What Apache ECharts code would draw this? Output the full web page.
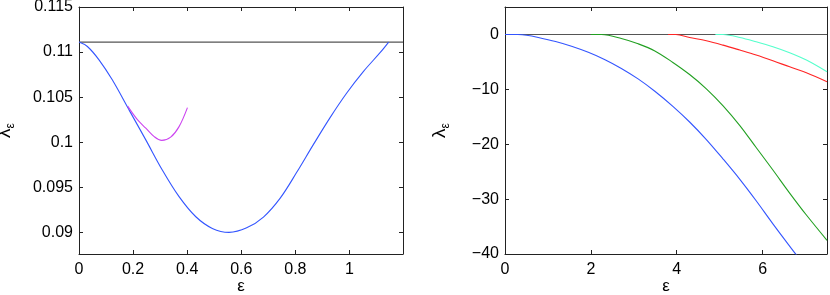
<!DOCTYPE html>
<html>
<head>
<meta charset="utf-8">
<script src="https://cdn.jsdelivr.net/npm/echarts@6/dist/echarts.min.js"></script>
<style>
html,body{margin:0;padding:0;background:#fff;}
#c{width:830px;height:295px;}
</style>
</head>
<body>
<div id="c"></div>
<script>
// ---- data ----
const leftXTicks = [0, 0.2, 0.4, 0.6, 0.8, 1];
const leftXLabels = ['0', '0.2', '0.4', '0.6', '0.8', '1'];
const leftYTicks = [0.09, 0.095, 0.1, 0.105, 0.11, 0.115];
const leftYLabels = ['0.09', '0.095', '0.1', '0.105', '0.11', '0.115'];
const rightXTicks = [0, 2, 4, 6];
const rightXLabels = ['0', '2', '4', '6'];
const rightYTicks = [-40, -30, -20, -10, 0];
const rightYLabels = ['\u221240', '\u221230', '\u221220', '\u221210', '0'];

const leftRef = 0.1111;   // horizontal line, left panel
const rightRef = 0;       // horizontal line, right panel

const leftBlueX = [0, 0.031, 0.074, 0.123, 0.185, 0.247, 0.308, 0.370, 0.432, 0.493, 0.555, 0.620, 0.682, 0.744, 0.805, 0.867, 0.929, 0.990, 1.052, 1.114, 1.145];
const leftBlueY = [0.11111, 0.11062, 0.10914, 0.10692, 0.10359, 0.10026, 0.09692, 0.09396, 0.09173, 0.09044, 0.09000, 0.09050, 0.09170, 0.09380, 0.09666, 0.09976, 0.10276, 0.10546, 0.10786, 0.10996, 0.11111];
const leftMagX = [0.180, 0.216, 0.247, 0.278, 0.306, 0.339, 0.370, 0.401];
const leftMagY = [0.10400, 0.10250, 0.10156, 0.10062, 0.10020, 0.10056, 0.10173, 0.10384];

const rBlueX = [0, 0.3, 0.5, 0.775, 1.178, 1.55, 1.94, 2.33, 2.71, 3.10, 3.49, 3.91, 4.30, 4.69, 5.08, 5.47, 5.85, 6.24, 6.74, 6.80];
const rBlueY = [0, -0.02, -0.15, -0.55, -1.28, -2.15, -3.25, -4.6, -6.2, -8.1, -10.35, -13.1, -15.95, -19.15, -22.7, -26.4, -30.3, -34.5, -39.7, -40.3];
const rGreenX = [2.0, 2.25, 2.71, 3.10, 3.49, 3.91, 4.30, 4.69, 5.08, 5.47, 5.85, 6.24, 6.63, 7.02, 7.5];
const rGreenY = [0, -0.02, -0.73, -1.70, -3.0, -5.1, -7.3, -9.9, -13.0, -16.6, -20.6, -24.7, -28.9, -32.9, -37.5];
const rRedX = [3.8, 3.98, 4.30, 4.69, 5.08, 5.47, 5.85, 6.24, 6.63, 7.02, 7.5];
const rRedY = [0, -0.02, -0.55, -1.15, -1.95, -2.85, -3.76, -4.8, -5.9, -6.97, -8.6];
const rCyanX = [4.9, 5.08, 5.47, 5.85, 6.24, 6.63, 7.02, 7.5];
const rCyanY = [0, -0.02, -0.55, -1.34, -2.25, -3.34, -4.67, -6.8];

// ---- chart ----
const FONT = 'Liberation Sans, Arial, Helvetica, sans-serif';
const AX = '#222';
const zip = (xs, ys) => xs.map((x, i) => [x, ys[i]]);
const fmt = (ticks, labels) => (v) => {
  const i = ticks.findIndex(t => Math.abs(t - v) < 1e-9);
  return i >= 0 ? labels[i] : '';
};

function xAxisDef(grid, min, max, ticks, labels, pos) {
  const main = pos === 'bottom';
  return {
    type: 'value', gridIndex: grid, min: min, max: max, position: pos,
    splitLine: {show: false},
    axisLine: {show: true, onZero: false, lineStyle: {color: AX, width: 1}},
    axisTick: {show: true, inside: true, length: 4, customValues: ticks, lineStyle: {color: AX}},
    axisLabel: {show: main, customValues: ticks, formatter: fmt(ticks, labels), margin: 8,
      color: '#000', fontSize: 16, fontFamily: FONT},
    name: main ? 'ε' : '', nameLocation: 'middle', nameGap: 24, nameMoveOverlap: false,
    nameTextStyle: {color: '#000', fontSize: 17, fontFamily: FONT}
  };
}
function yAxisDef(grid, min, max, ticks, labels, pos, gap) {
  const main = pos === 'left';
  return {
    type: 'value', gridIndex: grid, min: min, max: max, position: pos,
    splitLine: {show: false},
    axisLine: {show: true, onZero: false, lineStyle: {color: AX, width: 1}},
    axisTick: {show: true, inside: true, length: 4, customValues: ticks, lineStyle: {color: AX}},
    axisLabel: {show: main, customValues: ticks, formatter: fmt(ticks, labels), margin: 6,
      color: '#000', fontSize: 16, fontFamily: FONT},
    name: main ? '{a|λ}{b|ε}' : '', nameLocation: 'middle', nameRotate: 90, nameGap: gap,
    nameMoveOverlap: false,
    nameTextStyle: {
      color: '#000', fontFamily: FONT,
      rich: {
        a: {fontSize: 19, fontFamily: FONT, color: '#000', lineHeight: 24, verticalAlign: 'middle'},
        b: {fontSize: 12, fontFamily: FONT, color: '#000', lineHeight: 12, verticalAlign: 'bottom'}
      }
    }
  };
}
function line(xi, yi, data, color, z) {
  return {
    type: 'line', xAxisIndex: xi, yAxisIndex: yi, data: data, showSymbol: false,
    smooth: 0.35, clip: true, z: z || 2,
    lineStyle: {color: color, width: 1.1}, itemStyle: {color: color}, silent: true, animation: false
  };
}

const chart = echarts.init(document.getElementById('c'), null, {renderer: 'canvas'});
chart.setOption({
  animation: false,
  backgroundColor: '#fff',
  grid: [
    {left: 79, top: 7, width: 324, height: 247, containLabel: false, outerBoundsMode: 'none'},
    {left: 505, top: 7, width: 322, height: 247, containLabel: false, outerBoundsMode: 'none'}
  ],
  xAxis: [
    xAxisDef(0, 0, 1.198, leftXTicks, leftXLabels, 'bottom'),
    xAxisDef(1, 0, 7.5, rightXTicks, rightXLabels, 'bottom'),
    xAxisDef(0, 0, 1.198, leftXTicks, leftXLabels, 'top'),
    xAxisDef(1, 0, 7.5, rightXTicks, rightXLabels, 'top')
  ],
  yAxis: [
    yAxisDef(0, 0.0876, 0.115, leftYTicks, leftYLabels, 'left', 62),
    yAxisDef(1, -40, 5, rightYTicks, rightYLabels, 'left', 53),
    yAxisDef(0, 0.0876, 0.115, leftYTicks, leftYLabels, 'right', 0),
    yAxisDef(1, -40, 5, rightYTicks, rightYLabels, 'right', 0)
  ],
  series: [
    line(0, 0, [[0, leftRef], [1.198, leftRef]], '#555', 1),
    line(0, 0, zip(leftBlueX, leftBlueY), '#3355ff', 3),
    line(0, 0, zip(leftMagX, leftMagY), '#cc44f0', 4),
    line(1, 1, [[0, rightRef], [7.5, rightRef]], '#555', 1),
    line(1, 1, zip(rBlueX, rBlueY), '#3355ff', 3),
    line(1, 1, zip(rGreenX, rGreenY), '#22a022', 3),
    line(1, 1, zip(rRedX, rRedY), '#ff2424', 3),
    line(1, 1, zip(rCyanX, rCyanY), '#55ffcc', 3)
  ]
});
</script>
</body>
</html>
